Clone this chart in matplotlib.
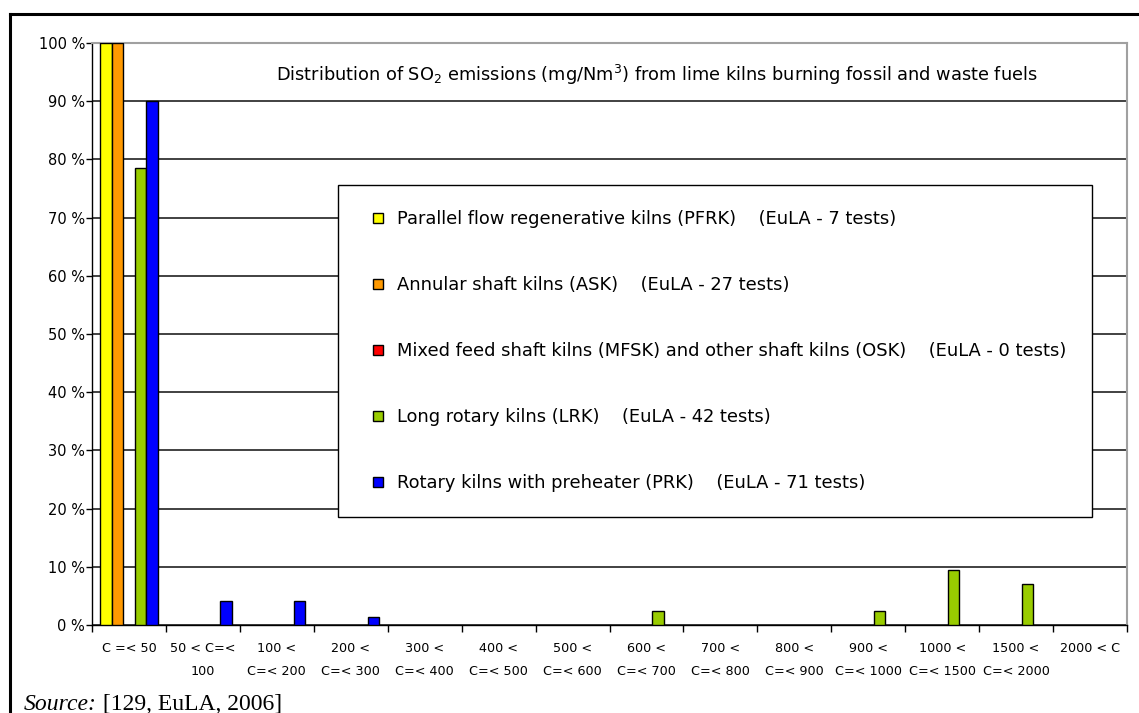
import matplotlib
matplotlib.use("Agg")
import matplotlib.pyplot as plt
from matplotlib.lines import Line2D
import numpy as np

categories = ["C =< 50", "50 < C=<\n100", "100 <\nC=< 200", "200 <\nC=< 300",
              "300 <\nC=< 400", "400 <\nC=< 500", "500 <\nC=< 600", "600 <\nC=< 700",
              "700 <\nC=< 800", "800 <\nC=< 900", "900 <\nC=< 1000", "1000 <\nC=< 1500",
              "1500 <\nC=< 2000", "2000 < C"]

pfrk = [100, 0, 0, 0, 0, 0, 0, 0, 0, 0, 0, 0, 0, 0]
ask = [100, 0, 0, 0, 0, 0, 0, 0, 0, 0, 0, 0, 0, 0]
mfsk = [0, 0, 0, 0, 0, 0, 0, 0, 0, 0, 0, 0, 0, 0]
lrk = [78.6, 0, 0, 0, 0, 0, 0, 2.4, 0, 0, 2.4, 9.5, 7.1, 0]
prk = [90.1, 4.2, 4.2, 1.4, 0, 0, 0, 0, 0, 0, 0, 0, 0, 0]

series_labels = [
    "Parallel flow regenerative kilns (PFRK)    (EuLA - 7 tests)",
    "Annular shaft kilns (ASK)    (EuLA - 27 tests)",
    "Mixed feed shaft kilns (MFSK) and other shaft kilns (OSK)    (EuLA - 0 tests)",
    "Long rotary kilns (LRK)    (EuLA - 42 tests)",
    "Rotary kilns with preheater (PRK)    (EuLA - 71 tests)",
]
colors = ["#FFFF00", "#FF9900", "#FF0000", "#99CC00", "#0000FF"]
yticks = [0, 10, 20, 30, 40, 50, 60, 70, 80, 90, 100]
ytick_labels = [f"{v} %" for v in yticks]

W, H = 1139, 713
fig = plt.figure(figsize=(W / 100, H / 100), dpi=100)
fig.patch.set_facecolor("white")

x0, x1 = 92, 1127
ytop, ybot = 43, 625
ax = fig.add_axes([x0 / W, 1 - ybot / H, (x1 - x0) / W, (ybot - ytop) / H])

n = len(categories)
centers = np.arange(n) + 0.5
bw = 0.155
all_series = [pfrk, ask, mfsk, lrk, prk]
for k, (vals, c) in enumerate(zip(all_series, colors)):
    vals = np.array(vals, dtype=float)
    mask = vals > 0
    ax.bar(centers[mask] + (k - 2) * bw, vals[mask], width=bw, color=c,
           edgecolor="black", linewidth=1.0, zorder=3)

ax.set_xlim(0, n)
ax.set_ylim(0, 100)
ax.set_yticks(yticks)
ax.set_yticklabels(ytick_labels, fontsize=10.5)
ax.yaxis.grid(True, color="#333333", linewidth=1.3, zorder=0)
ax.set_axisbelow(True)

ax.set_xticks(centers)
ax.set_xticklabels(categories, fontsize=9.2, linespacing=2.0)
ax.tick_params(axis="x", which="major", length=0, pad=12.5)
ax.set_xticks(np.arange(n + 1), minor=True)
ax.tick_params(axis="x", which="minor", length=5, width=1, direction="out")
ax.tick_params(axis="y", length=4, width=1, pad=1)

for s in ["top", "right"]:
    ax.spines[s].set_color("#a0a0a0")
    ax.spines[s].set_linewidth(1.5)
for s in ["left", "bottom"]:
    ax.spines[s].set_color("black")
    ax.spines[s].set_linewidth(1.0)

ax.text((657 - x0) / (x1 - x0), (ybot - 75) / (ybot - ytop),
        r"Distribution of SO$_2$ emissions (mg/Nm$^3$) from lime kilns burning fossil and waste fuels",
        transform=ax.transAxes, ha="center", va="center", fontsize=12.8)

handles = [Line2D([0], [0], marker="s", linestyle="none", markersize=7,
                  markerfacecolor=c, markeredgecolor="black", markeredgewidth=1)
           for c in colors]
lx0 = (338 - x0) / (x1 - x0)
ly1 = (ybot - 185) / (ybot - ytop)
leg = ax.legend(handles, series_labels, loc="upper left",
                bbox_to_anchor=(lx0, ly1), borderaxespad=0,
                fontsize=12.9, labelspacing=2.68, borderpad=1.4,
                handlelength=1.68, handletextpad=0.22, fancybox=False,
                framealpha=1, edgecolor="black")
leg.get_frame().set_linewidth(1.0)
leg.set_zorder(5)

# outer frame
fig.add_artist(Line2D([10 / W, 1], [1 - 14 / H, 1 - 14 / H], color="black", linewidth=2.2))
fig.add_artist(Line2D([10 / W, 10 / W], [0, 1 - 14 / H], color="black", linewidth=2.2))

t1 = fig.text(24 / W, 1 - 710 / H, "Source:", fontsize=17, style="italic",
              family="Liberation Serif", va="baseline", ha="left")
ann = plt.annotate(" [129, EuLA, 2006]", xy=(1, 0), xycoords=t1, va="bottom", ha="left",
                   fontsize=17, family="Liberation Serif", annotation_clip=False)

fig.savefig("out.png", dpi=100)
